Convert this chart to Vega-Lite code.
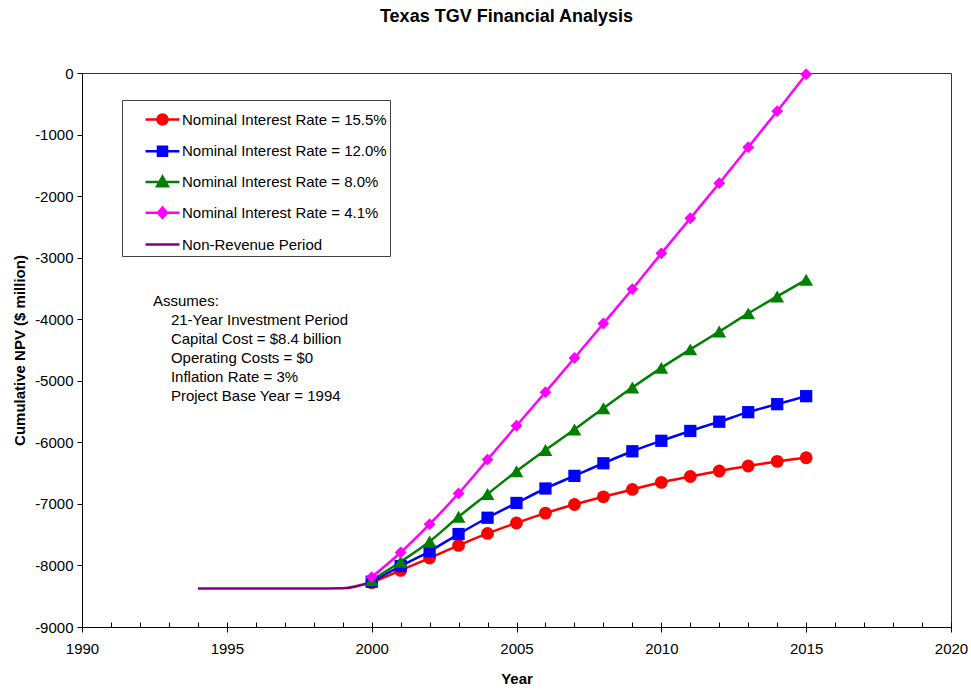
{
  "$schema": "https://vega.github.io/schema/vega-lite/v6.json",
  "width": 869,
  "height": 554,
  "autosize": "none",
  "padding": {"left": 82, "top": 73, "right": 20, "bottom": 63},
  "background": "white",
  "config": {
    "font": "Liberation Sans",
    "view": {"stroke": "#333333", "strokeWidth": 1},
    "axis": {"grid": false, "domainColor": "black", "tickColor": "black", "labelColor": "black", "titleColor": "black", "labelFont": "Liberation Sans", "titleFont": "Liberation Sans", "labelFontSize": 15, "titleFontSize": 15, "titleFontWeight": "bold", "domainWidth": 1, "tickWidth": 1}
  },
  "title": {"text": "Texas TGV Financial Analysis", "fontSize": 18, "fontWeight": "bold", "font": "Liberation Sans", "color": "black", "offset": 40, "dx": -10},
  "data": {
    "values": [
      {"s": "Non-Revenue Period", "year": 1994, "npv": -8375},
      {"s": "Non-Revenue Period", "year": 1995, "npv": -8375},
      {"s": "Non-Revenue Period", "year": 1996, "npv": -8375},
      {"s": "Non-Revenue Period", "year": 1997, "npv": -8375},
      {"s": "Non-Revenue Period", "year": 1998, "npv": -8375},
      {"s": "Non-Revenue Period", "year": 1999, "npv": -8372},
      {"s": "Non-Revenue Period", "year": 2000, "npv": -8270},
      {"s": "Nominal Interest Rate = 15.5%", "year": 2000, "npv": -8280},
      {"s": "Nominal Interest Rate = 15.5%", "year": 2001, "npv": -8080},
      {"s": "Nominal Interest Rate = 15.5%", "year": 2002, "npv": -7880},
      {"s": "Nominal Interest Rate = 15.5%", "year": 2003, "npv": -7675},
      {"s": "Nominal Interest Rate = 15.5%", "year": 2004, "npv": -7480},
      {"s": "Nominal Interest Rate = 15.5%", "year": 2005, "npv": -7310},
      {"s": "Nominal Interest Rate = 15.5%", "year": 2006, "npv": -7150},
      {"s": "Nominal Interest Rate = 15.5%", "year": 2007, "npv": -7010},
      {"s": "Nominal Interest Rate = 15.5%", "year": 2008, "npv": -6885},
      {"s": "Nominal Interest Rate = 15.5%", "year": 2009, "npv": -6765},
      {"s": "Nominal Interest Rate = 15.5%", "year": 2010, "npv": -6650},
      {"s": "Nominal Interest Rate = 15.5%", "year": 2011, "npv": -6555},
      {"s": "Nominal Interest Rate = 15.5%", "year": 2012, "npv": -6465},
      {"s": "Nominal Interest Rate = 15.5%", "year": 2013, "npv": -6385},
      {"s": "Nominal Interest Rate = 15.5%", "year": 2014, "npv": -6310},
      {"s": "Nominal Interest Rate = 15.5%", "year": 2015, "npv": -6250},
      {"s": "Nominal Interest Rate = 12.0%", "year": 2000, "npv": -8265},
      {"s": "Nominal Interest Rate = 12.0%", "year": 2001, "npv": -8010},
      {"s": "Nominal Interest Rate = 12.0%", "year": 2002, "npv": -7770},
      {"s": "Nominal Interest Rate = 12.0%", "year": 2003, "npv": -7490},
      {"s": "Nominal Interest Rate = 12.0%", "year": 2004, "npv": -7225},
      {"s": "Nominal Interest Rate = 12.0%", "year": 2005, "npv": -6985},
      {"s": "Nominal Interest Rate = 12.0%", "year": 2006, "npv": -6750},
      {"s": "Nominal Interest Rate = 12.0%", "year": 2007, "npv": -6545},
      {"s": "Nominal Interest Rate = 12.0%", "year": 2008, "npv": -6340},
      {"s": "Nominal Interest Rate = 12.0%", "year": 2009, "npv": -6145},
      {"s": "Nominal Interest Rate = 12.0%", "year": 2010, "npv": -5975},
      {"s": "Nominal Interest Rate = 12.0%", "year": 2011, "npv": -5815},
      {"s": "Nominal Interest Rate = 12.0%", "year": 2012, "npv": -5665},
      {"s": "Nominal Interest Rate = 12.0%", "year": 2013, "npv": -5510},
      {"s": "Nominal Interest Rate = 12.0%", "year": 2014, "npv": -5380},
      {"s": "Nominal Interest Rate = 12.0%", "year": 2015, "npv": -5250},
      {"s": "Nominal Interest Rate = 8.0%", "year": 2000, "npv": -8240},
      {"s": "Nominal Interest Rate = 8.0%", "year": 2001, "npv": -7940},
      {"s": "Nominal Interest Rate = 8.0%", "year": 2002, "npv": -7610},
      {"s": "Nominal Interest Rate = 8.0%", "year": 2003, "npv": -7210},
      {"s": "Nominal Interest Rate = 8.0%", "year": 2004, "npv": -6840},
      {"s": "Nominal Interest Rate = 8.0%", "year": 2005, "npv": -6470},
      {"s": "Nominal Interest Rate = 8.0%", "year": 2006, "npv": -6125},
      {"s": "Nominal Interest Rate = 8.0%", "year": 2007, "npv": -5790},
      {"s": "Nominal Interest Rate = 8.0%", "year": 2008, "npv": -5445},
      {"s": "Nominal Interest Rate = 8.0%", "year": 2009, "npv": -5110},
      {"s": "Nominal Interest Rate = 8.0%", "year": 2010, "npv": -4790},
      {"s": "Nominal Interest Rate = 8.0%", "year": 2011, "npv": -4490},
      {"s": "Nominal Interest Rate = 8.0%", "year": 2012, "npv": -4200},
      {"s": "Nominal Interest Rate = 8.0%", "year": 2013, "npv": -3905},
      {"s": "Nominal Interest Rate = 8.0%", "year": 2014, "npv": -3630},
      {"s": "Nominal Interest Rate = 8.0%", "year": 2015, "npv": -3360},
      {"s": "Nominal Interest Rate = 4.1%", "year": 2000, "npv": -8190},
      {"s": "Nominal Interest Rate = 4.1%", "year": 2001, "npv": -7790},
      {"s": "Nominal Interest Rate = 4.1%", "year": 2002, "npv": -7330},
      {"s": "Nominal Interest Rate = 4.1%", "year": 2003, "npv": -6830},
      {"s": "Nominal Interest Rate = 4.1%", "year": 2004, "npv": -6280},
      {"s": "Nominal Interest Rate = 4.1%", "year": 2005, "npv": -5730},
      {"s": "Nominal Interest Rate = 4.1%", "year": 2006, "npv": -5185},
      {"s": "Nominal Interest Rate = 4.1%", "year": 2007, "npv": -4630},
      {"s": "Nominal Interest Rate = 4.1%", "year": 2008, "npv": -4070},
      {"s": "Nominal Interest Rate = 4.1%", "year": 2009, "npv": -3510},
      {"s": "Nominal Interest Rate = 4.1%", "year": 2010, "npv": -2930},
      {"s": "Nominal Interest Rate = 4.1%", "year": 2011, "npv": -2360},
      {"s": "Nominal Interest Rate = 4.1%", "year": 2012, "npv": -1790},
      {"s": "Nominal Interest Rate = 4.1%", "year": 2013, "npv": -1205},
      {"s": "Nominal Interest Rate = 4.1%", "year": 2014, "npv": -620},
      {"s": "Nominal Interest Rate = 4.1%", "year": 2015, "npv": -20}
    ]
  },
  "layer": [
    {
      "mark": {"type": "line", "strokeWidth": 2.5, "interpolate": "monotone"},
      "encoding": {
        "x": {"field": "year", "type": "quantitative", "scale": {"domain": [1990, 2020], "nice": false, "zero": false},
          "axis": {"orient": "bottom", "values": [1990, 1995, 2000, 2005, 2010, 2015, 2020], "tickSize": 5, "labelPadding": 9, "title": "Year", "titlePadding": 15, "format": "d", "labelFlush": false}},
        "y": {"field": "npv", "type": "quantitative", "scale": {"domain": [-9000, 0], "nice": false, "zero": false},
          "axis": {"values": [-9000, -8000, -7000, -6000, -5000, -4000, -3000, -2000, -1000, 0], "tickSize": 5, "labelPadding": 4, "labelExpr": "toString(datum.value)", "title": "Cumulative NPV ($ million)", "titlePadding": 7, "labelFlush": false}},
        "color": {"field": "s", "type": "nominal",
          "scale": {"domain": ["Nominal Interest Rate = 15.5%", "Nominal Interest Rate = 12.0%", "Nominal Interest Rate = 8.0%", "Nominal Interest Rate = 4.1%", "Non-Revenue Period"],
                    "range": ["#FF0000", "#0000FF", "#008000", "#FF00FF", "#800080"]},
          "legend": {
            "title": null, "orient": "none", "legendX": 40, "legendY": 27,
            "labelFontSize": 15, "labelFont": "Liberation Sans", "labelColor": "black", "labelLimit": 400,
            "symbolSize": 900, "symbolStrokeWidth": 2.5, "symbolOffset": 21, "labelOffset": 3,
            "padding": 3, "rowPadding": 4.75, "strokeColor": "#404040", "fillColor": "white", "cornerRadius": 0,
            "encode": {
              "symbols": {
                "update": {
                  "shape": {"signal": "datum.value === 'Nominal Interest Rate = 15.5%' ? 'M-1.13,0H1.13M-0.33,0A0.33,0.33,0,1,1,0.33,0A0.33,0.33,0,1,1,-0.33,0Z' : datum.value === 'Nominal Interest Rate = 12.0%' ? 'M-1.13,0H1.13M-0.3,-0.3H0.3V0.3H-0.3Z' : datum.value === 'Nominal Interest Rate = 8.0%' ? 'M-1.13,0H1.13M0,-0.36L0.36,0.28H-0.36Z' : datum.value === 'Nominal Interest Rate = 4.1%' ? 'M-1.13,0H1.13M0,-0.34L0.3,0L0,0.34L-0.3,0Z' : 'M-1.13,0H1.13'"},
                  "fill": {"scale": "color", "field": "value"},
                  "stroke": {"scale": "color", "field": "value"},
                  "strokeWidth": {"value": 2.5},
                  "size": {"value": 900},
                  "opacity": {"value": 1}
                }
              }
            }
          }}
      }
    },
    {
      "transform": [{"filter": "datum.s === 'Nominal Interest Rate = 15.5%'"}],
      "mark": {"type": "point", "shape": "circle", "filled": true, "opacity": 1, "size": 165},
      "encoding": {
        "x": {"field": "year", "type": "quantitative",
          "axis": {"orient": "bottom", "values": [1990, 1991, 1992, 1993, 1994, 1995, 1996, 1997, 1998, 1999, 2000, 2001, 2002, 2003, 2004, 2005, 2006, 2007, 2008, 2009, 2010, 2011, 2012, 2013, 2014, 2015, 2016, 2017, 2018, 2019, 2020], "tickSize": -5, "labels": false, "title": null}},
        "y": {"field": "npv", "type": "quantitative"},
        "color": {"field": "s", "type": "nominal"}
      }
    },
    {
      "transform": [{"filter": "datum.s === 'Nominal Interest Rate = 12.0%'"}],
      "mark": {"type": "point", "shape": "square", "filled": true, "opacity": 1, "size": 150},
      "encoding": {
        "x": {"field": "year", "type": "quantitative", "axis": null},
        "y": {"field": "npv", "type": "quantitative"},
        "color": {"field": "s", "type": "nominal"}
      }
    },
    {
      "transform": [{"filter": "datum.s === 'Nominal Interest Rate = 8.0%'"}],
      "mark": {"type": "point", "shape": "triangle-up", "filled": true, "opacity": 1, "size": 190},
      "encoding": {
        "x": {"field": "year", "type": "quantitative", "axis": null},
        "y": {"field": "npv", "type": "quantitative"},
        "color": {"field": "s", "type": "nominal"}
      }
    },
    {
      "transform": [{"filter": "datum.s === 'Nominal Interest Rate = 4.1%'"}],
      "mark": {"type": "point", "shape": "diamond", "filled": true, "opacity": 1, "size": 140},
      "encoding": {
        "x": {"field": "year", "type": "quantitative", "axis": null},
        "y": {"field": "npv", "type": "quantitative"},
        "color": {"field": "s", "type": "nominal"}
      }
    },
    {
      "data": {"values": [{"k": 1}]},
      "mark": {"type": "text", "align": "left", "baseline": "alphabetic", "fontSize": 15, "font": "Liberation Sans", "color": "black"},
      "encoding": {
        "x": {"datum": 1992.45, "type": "quantitative", "axis": null},
        "y": {"datum": -3790, "type": "quantitative"},
        "text": {"value": "Assumes:"}
      }
    },
    {
      "data": {"values": [{"k": 1}]},
      "mark": {"type": "text", "align": "left", "baseline": "alphabetic", "fontSize": 15, "font": "Liberation Sans", "color": "black", "lineHeight": 19},
      "encoding": {
        "x": {"datum": 1993.07, "type": "quantitative", "axis": null},
        "y": {"datum": -4100, "type": "quantitative"},
        "text": {"value": ["21-Year Investment Period", "Capital Cost = $8.4 billion", "Operating Costs = $0", "Inflation Rate = 3%", "Project Base Year = 1994"]}
      }
    }
  ],
  "resolve": {"axis": {"x": "independent"}}
}
